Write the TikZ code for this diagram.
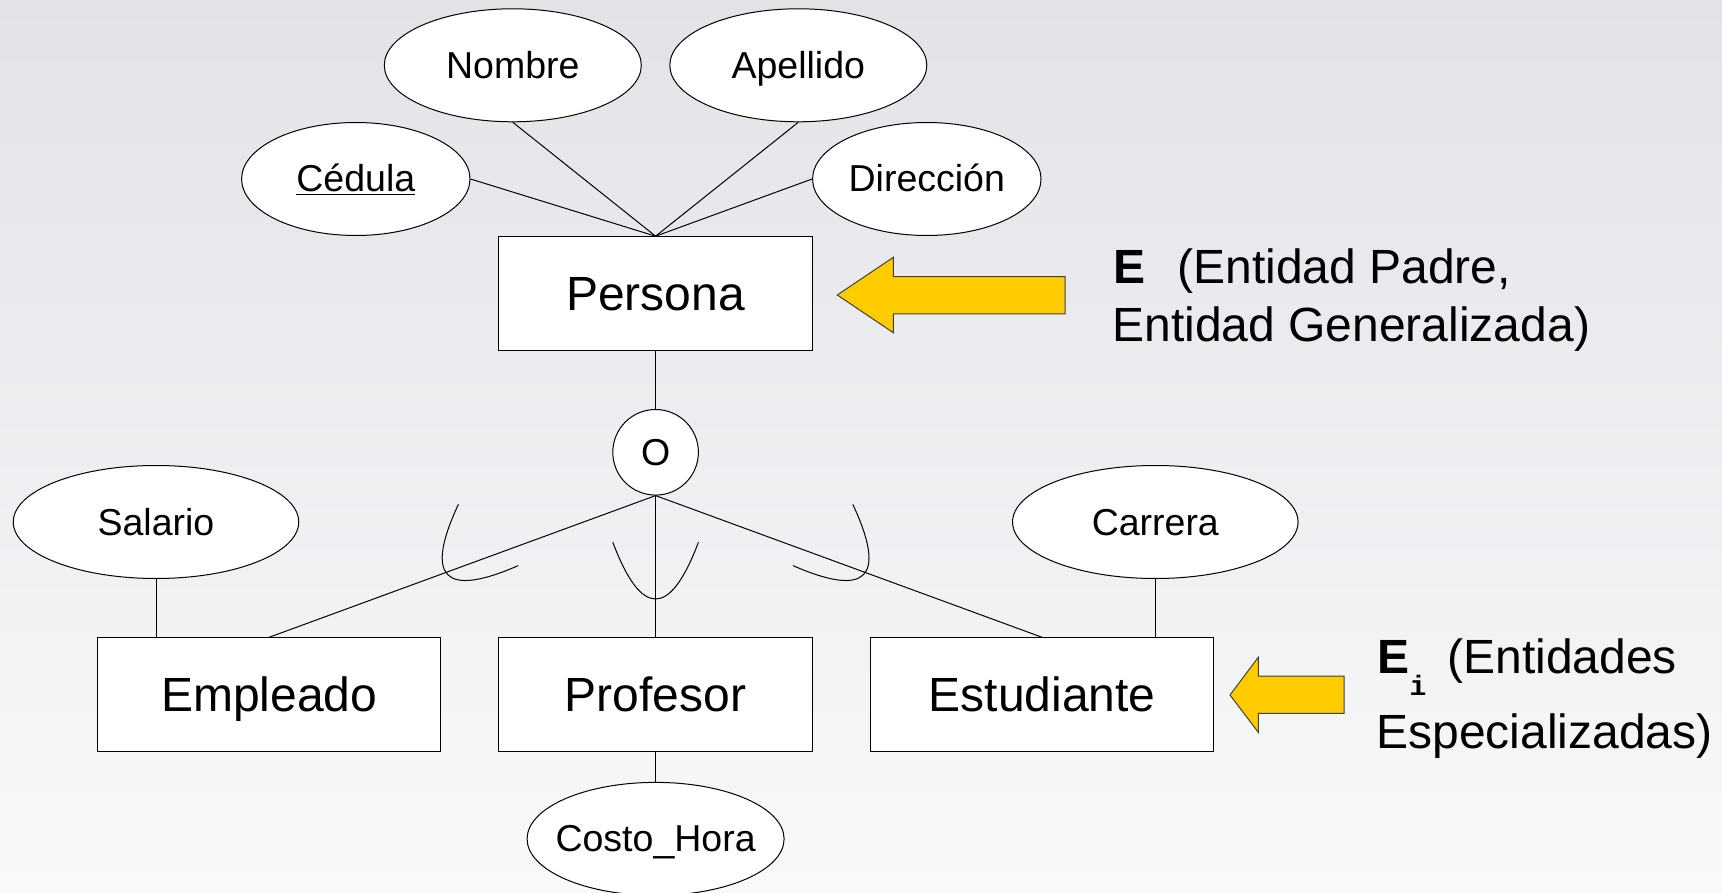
\documentclass[tikz,border=0pt]{standalone}
\usepackage{fontspec}
\setmainfont{Liberation Sans}
\newfontfamily\monofont{Liberation Mono}
\usetikzlibrary{positioning,shapes.geometric}
\definecolor{bgtop}{RGB}{226,227,231}
\definecolor{bgbot}{RGB}{248,249,250}
\definecolor{flecha}{RGB}{255,204,0}
\tikzset{
  entidad/.style={
    rectangle, draw, fill=white,
    minimum height=114pt, inner sep=0pt,
    text height=43.4pt, text depth=10.2pt,
    font=\fontsize{48}{54}\selectfont,
  },
  atributo/.style={
    ellipse, draw, fill=white,
    inner sep=0pt, inner xsep=-60pt,
    minimum height=113pt,
    text height=33.9pt, text depth=7.9pt,
    font=\fontsize{37.5}{42}\selectfont,
  },
  disj/.style={
    circle, draw, fill=white,
    minimum size=85.6pt, inner sep=0pt,
    font=\fontsize{37.5}{42}\selectfont,
  },
  line/.style={
    draw, line width=1pt,
  },
  bloque/.style={
    draw=black!75, fill=flecha, line width=1pt,
  },
  nota/.style={
    anchor=base west, inner sep=0pt,
    font=\fontsize{48}{56}\selectfont,
  }
}
\begin{document}
\begin{tikzpicture}[x=1pt,y=-1pt,line width=1pt]
\path [use as bounding box,top color=bgtop,bottom color=bgbot] (0,0) rectangle (1722,893);
% entidades
\node [entidad, minimum width=314.4pt] (per) at (655.6,293.7) {Persona};
\node [disj, below=57.8pt of per] (o) {O};
\node [entidad, minimum width=314.4pt, below=141.7pt of o] (pro) {Profesor};
\node [entidad, minimum width=343.4pt, left=56.6pt of pro] (emp) {Empleado};
\node [entidad, minimum width=342.6pt, right=57pt of pro] (est) {Estudiante};
% atributos
\node [atributo, minimum width=228.4pt] (ced) at (355.8,179) {\underline{Cédula}};
\node [atributo, minimum width=257pt] (nom) at (512.8,65.3) {Nombre};
\node [atributo, minimum width=257pt] (ape) at (798.3,65.3) {Apellido};
\node [atributo, minimum width=228.4pt] (dir) at (926.8,179) {Dirección};
\node [atributo, minimum width=285.5pt] (sal) at (156,522) {Salario};
\node [atributo, minimum width=285.5pt] (car) at (1155.3,522) {Carrera};
\node [atributo, minimum width=257pt, below=29.6pt of pro] (cos) {Costo\_Hora};
% lineas
\path [line] (ced.east) -- (per.north);
\path [line] (nom.south) -- (per.north);
\path [line] (ape.south) -- (per.north);
\path [line] (dir.west) -- (per.north);
\path [line] (per) -- (o);
\path [line] (o.south) -- (emp.north);
\path [line] (o.south) -- (pro.north);
\path [line] (o.south) -- (est.north);
\path [line] (sal.south) -- (sal.south |- emp.north);
\path [line] (car.south) -- (car.south |- est.north);
\path [line] (pro) -- (cos);
% subconjuntos
\foreach \px/\py/\ang in {447.7/574.6/-45.7, 655.6/599/0, 863.5/574.6/45.7}
  \path [line, shift={(\px,\py)}, rotate=\ang]
    (-42.8,-56.7) .. controls (-14.3,18.9) and (14.3,18.9) .. (42.8,-56.7);
% flechas
\filldraw [bloque] (1065,276.7) -- (893.3,276.7) -- (893.3,257.3) -- (837.3,295)
  -- (893.3,332.7) -- (893.3,314) -- (1065,314) -- cycle;
\filldraw [bloque] (1344,676) -- (1258.3,676) -- (1258.3,657.3) -- (1230,695)
  -- (1258.3,732.3) -- (1258.3,713.3) -- (1344,713.3) -- cycle;
% textos
\node [nota] (e1) at (1113,283.3) {\textbf{E}\hspace{32pt}(Entidad Padre,};
\node [nota] (e2) at (1112,341.7) {Entidad Generalizada)};
\node [nota] (ei1) at (1377,673.3) {\textbf{E}\raisebox{-22pt}{\fontsize{28}{28}\monofont\bfseries i}\hspace{21pt}(Entidades};
\node [nota] (ei2) at (1376,748.3) {Especializadas)};
\end{tikzpicture}
\end{document}
